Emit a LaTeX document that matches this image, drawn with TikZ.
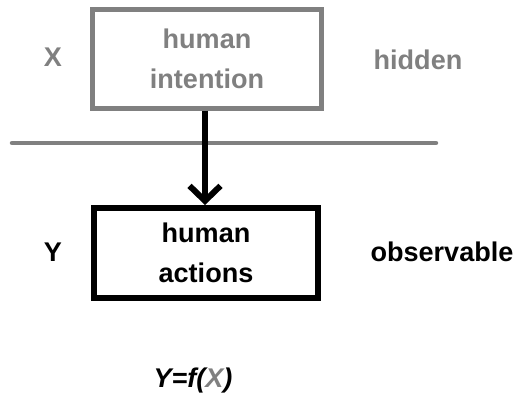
\documentclass[tikz,border=0pt]{standalone}
\usepackage{fontspec}
\setmainfont{Liberation Sans}
\usetikzlibrary{arrows.meta}

\begin{document}
\begin{tikzpicture}[x=0.02cm, y=-0.02cm,
    every node/.style={font=\fontsize{15.4}{22.4}\selectfont\bfseries},
    varbox/.style={draw, rectangle, align=center, inner sep=0pt}]
    \useasboundingbox (0,0) rectangle (515,396);

    % Hidden and observable boxes
    \node[varbox, draw=gray, text=gray, line width=0.1cm, minimum width=4.58cm, minimum height=1.97cm] (intention) at (207,59) {human\\intention};
    \node[varbox, draw=black, line width=0.12cm, minimum width=4.47cm, minimum height=1.8cm] (actions) at (206,253) {human\\actions};

    % Side labels
    \node[text=gray] (xlabel) at (53,57) {X};
    \node[text=gray] (hidden) at (418,60) {hidden};
    \node (ylabel) at (53,252) {Y};
    \node (observable) at (442,252) {observable};

    % Dividing line, then the arrow over it
    \coordinate (lineleft) at (12,143);
    \coordinate (lineright) at (436,143);
    \draw[gray, line width=0.09cm, line cap=round] (lineleft) -- (lineright);
    \draw[line width=0.12cm, -{Straight Barb[length=0.3cm, width=0.62cm]}] (intention.south -| 205,0) -- (actions.north -| 205,0);

    % Formula
    \node (formula) at (193,381) {\itshape Y=f(\textcolor{gray}{X})};
\end{tikzpicture}
\end{document}
